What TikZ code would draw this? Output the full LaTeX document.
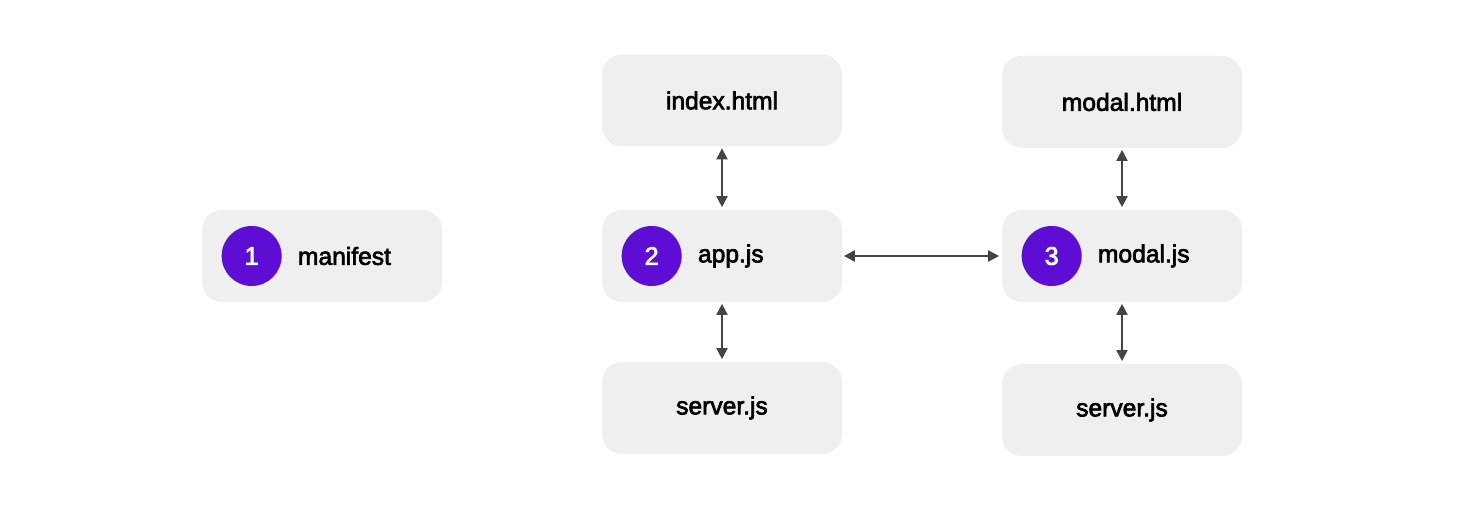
\documentclass[tikz,border=0pt]{standalone}
\usepackage{xcolor}
\usepackage{fontspec}
\newfontfamily\boxfont[FakeBold=2.6]{Liberation Sans}
\usepackage{tikz}
\usetikzlibrary{arrows.meta, positioning, calc}
\definecolor{boxgray}{RGB}{239, 239, 239}
\definecolor{stepviolet}{RGB}{94, 14, 212}
\definecolor{linkgray}{RGB}{68, 68, 68}

\begin{document}
\begin{tikzpicture}[
    filebox/.style={fill=boxgray, rounded corners=0.4cm, minimum width=4.8cm, minimum height=1.84cm, font=\boxfont\fontsize{14}{16}\selectfont},
    stepdot/.style={circle, fill=stepviolet, minimum size=1.2cm, inner sep=0pt, text=white, font=\boxfont\fontsize{14.5}{16}\selectfont},
    boxlabel/.style={anchor=west, inner sep=0pt, font=\boxfont\fontsize{14}{16}\selectfont},
    link/.style={linkgray, line width=1.1pt, {Triangle[length=2.2mm, width=2.2mm]}-{Triangle[length=2.2mm, width=2.2mm]}, shorten <=0.03cm, shorten >=0.05cm}
]
    \useasboundingbox (0,0) rectangle (29.68,-10.2);

    % Boxes
    \node[filebox] (manifest) at (6.44,-5.12) {};
    \node[filebox] (index) at (14.44,-2.01) {index.html};
    \node[filebox] (app) at (14.44,-5.12) {};
    \node[filebox] (server) at (14.44,-8.16) {server.js};
    \node[filebox] (modalhtml) at (22.44,-2.04) {modal.html};
    \node[filebox] (modaljs) at (22.44,-5.12) {};
    \node[filebox] (modalserver) at (22.44,-8.2) {server.js};

    % Numbered steps
    \node[stepdot] (one) at ($(manifest.west)+(1,0)$) {1};
    \node[boxlabel] (manifestlabel) at ($(one.center)+(0.92,0)$) {manifest};
    \node[stepdot] (two) at ($(app.west)+(1,0)$) {2};
    \node[boxlabel] (applabel) at ($(two.center)+(0.92,0)$) {app.js};
    \node[stepdot] (three) at ($(modaljs.west)+(1,0)$) {3};
    \node[boxlabel] (modaljslabel) at ($(three.center)+(0.92,0)$) {modal.js};

    % Links
    \draw[link] (index) -- (app);
    \draw[link] (app) -- (server);
    \draw[link] (app) -- (modaljs);
    \draw[link] (modalhtml) -- (modaljs);
    \draw[link] (modaljs) -- (modalserver);
\end{tikzpicture}
\end{document}
